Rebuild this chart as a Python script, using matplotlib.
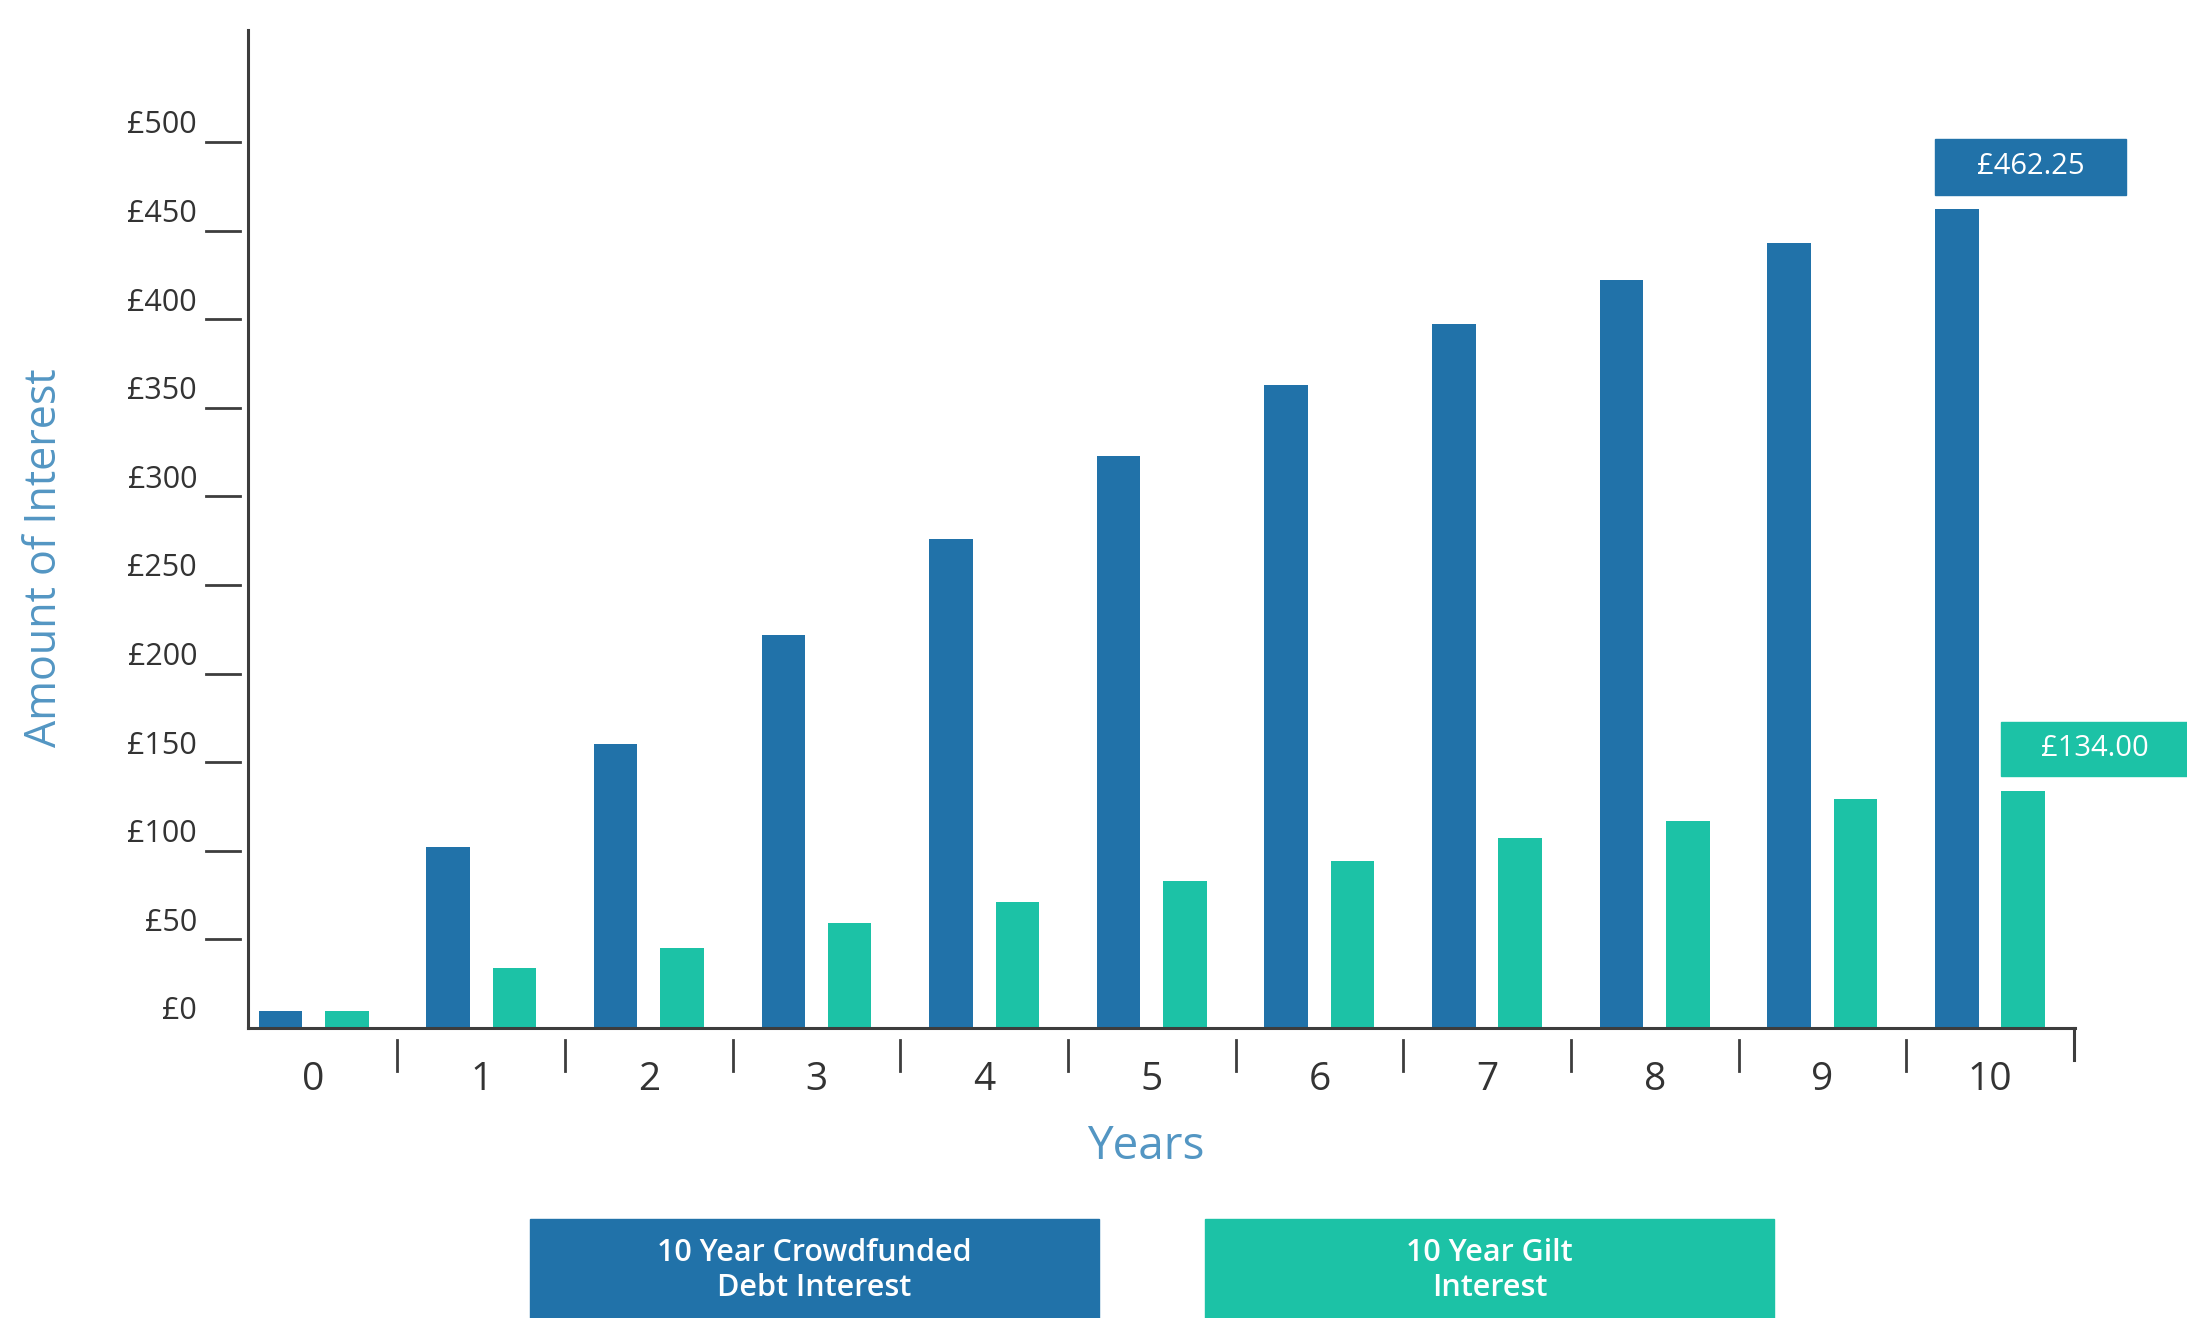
import matplotlib
matplotlib.use("Agg")
import matplotlib.pyplot as plt
from matplotlib.patches import Rectangle
import matplotlib.transforms as mtransforms
import numpy as np

plt.rcParams['font.family'] = ['Open Sans', 'DejaVu Sans']

# values
years = [0, 1, 2, 3, 4, 5, 6, 7, 8, 9, 10]
crowd = [9.4, 102, 160, 222, 276, 323, 363, 397, 422, 443, 462.25]
gilt = [9.4, 34, 45, 59, 71, 83, 94, 107, 117, 129, 134]
ytick_vals = [0, 50, 100, 150, 200, 250, 300, 350, 400, 450, 500]
ytick_labels = ["£0", "£50", "£100", "£150", "£200", "£250", "£300", "£350", "£400", "£450", "£500"]
legend_labels = ["10 Year Crowdfunded\nDebt Interest", "10 Year Gilt\nInterest"]

blue = '#2172a9'
teal = '#1cc2a6'
axis_col = '#3d3d3d'
label_col = '#5396c3'

fig = plt.figure(figsize=(21.87, 13.18), dpi=100)
ax = fig.add_axes([0.1135, 0.220, 0.8355, 0.757])

x = np.array(years)
off = 0.198
w = 0.26
ax.bar(x - off, crowd, width=w, color=blue)
ax.bar(x + off, gilt, width=w, color=teal)

ax.set_xlim(-0.39, 10.51)
ax.set_ylim(0, 563)

for s in ['top', 'right']:
    ax.spines[s].set_visible(False)
for s in ['left', 'bottom']:
    ax.spines[s].set_color(axis_col)
    ax.spines[s].set_linewidth(2.2)

# x ticks
ax.set_xticks(x)
ax.set_xticklabels([str(y) for y in years], fontsize=28, color='#333333')
ax.tick_params(axis='x', length=0, pad=24)

# y ticks drawn as separated dashes with label above
ax.set_yticks([])
ytrans = mtransforms.blended_transform_factory(ax.transAxes, ax.transData)
for v, lab in zip(ytick_vals, ytick_labels):
    if v > 0:
        ax.plot([-0.0229, -0.0046], [v, v], color=axis_col, lw=2, transform=ytrans, clip_on=False)
    ax.annotate(lab, xy=(-0.028, v), xycoords=ytrans, xytext=(0, 12), textcoords='offset points',
                ha='right', va='center', fontsize=22, color='#333333')

# group separators below the axis
xtrans = mtransforms.blended_transform_factory(ax.transData, ax.transAxes)
for i in years:
    if i < 10:
        ax.plot([i + 0.5, i + 0.5], [-0.012, -0.043], color=axis_col, lw=2, transform=xtrans, clip_on=False)
    else:
        ax.plot([i + 0.5, i + 0.5], [0, -0.032], color=axis_col, lw=2.2, transform=xtrans, clip_on=False)

# value boxes on last year
bx = x[-1] - off
ax.add_patch(Rectangle((bx - w / 2, crowd[-1] + 7.9), 1.14, 31.5, color=blue, clip_on=False))
ax.text(bx - w / 2 + 0.57, crowd[-1] + 7.9 + 15.75, "£%.2f" % crowd[-1], ha='center', va='center',
        fontsize=21, color='white')
gx = x[-1] + off
ax.add_patch(Rectangle((gx - w / 2, gilt[-1] + 8.5), 1.2, 30, color=teal, clip_on=False))
ax.text(gx - w / 2 + 0.555, gilt[-1] + 8.5 + 15, "£%.2f" % gilt[-1], ha='center', va='center',
        fontsize=21, color='white')

fig.text(0.0204, 0.577, "Amount of Interest", rotation=90, ha='center', va='center',
         fontsize=31, color=label_col)
fig.text(0.524, 0.130, "Years", ha='center', va='center', fontsize=33, color=label_col)

# legend boxes
for left, col, lab in [(0.2423, blue, legend_labels[0]), (0.551, teal, legend_labels[1])]:
    fig.patches.append(Rectangle((left, 0), 0.260, 0.0751, transform=fig.transFigure, color=col))
    fig.text(left + 0.130, 0.036, lab, ha='center', va='center', fontsize=22,
             fontweight='semibold', color='white', linespacing=1.2)

fig.savefig("out.png", dpi=100)
